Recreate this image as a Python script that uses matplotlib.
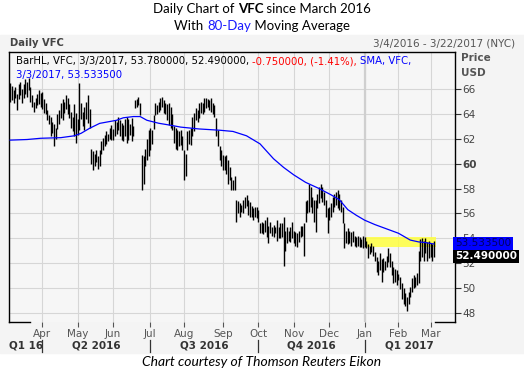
import matplotlib
matplotlib.use('Agg')
import matplotlib.pyplot as plt
import numpy as np
import pandas as pd
from matplotlib.transforms import blended_transform_factory

# ---------------- data ----------------
holidays = ['2016-03-25', '2016-05-30', '2016-07-04', '2016-09-05', '2016-11-24',
            '2016-12-26', '2017-01-02', '2017-01-16', '2017-02-20']
first_date = '2016-03-04'
axis_end_date = '2017-03-22'

highs = [66.5, 66.3, 65.9, 66.2, 65.6, 66.4, 66.6, 66.0, 66.4, 66.8,
         66.6, 66.9, 66.2, 65.5, 65.0, 65.3, 65.6, 65.9, 65.7, 65.8,
         65.2, 64.9, 64.3, 63.9, 63.8, 63.4, 63.2, 62.9, 64.0, 64.3,
         64.9, 65.2, 65.0, 65.5, 65.3, 64.8, 64.2, 63.8, 64.8, 64.1,
         63.6, 66.5, 64.9, 64.2, 64.6, 65.0, 65.5, 64.4, 61.2, 61.0,
         60.8, 61.1, 60.6, 61.1, 61.8, 62.1, 62.3, 62.6, 62.4, 62.9,
         63.1, 62.8, 63.5, 63.4, 63.8, 63.5, 63.3, 63.1, 63.6, 63.8,
         63.6, 63.2, 63.7, 63.0, 65.1, 65.2, 65.4, 64.9, 60.7, 60.6,
         61.2, 62.0, 62.7, 62.9, 62.7, 63.9, 64.9, 64.7, 65.0, 65.3,
         65.4, 65.1, 64.9, 64.8, 64.9, 64.6, 64.0, 63.0, 62.9, 62.7,
         62.6, 62.7, 62.2, 61.1, 60.8, 62.6, 62.7, 62.9, 63.8, 64.1,
         64.5, 64.3, 64.9, 65.0, 64.9, 65.3, 65.3, 65.2, 65.1, 65.3,
         64.9, 64.7, 63.7, 62.7, 61.4, 61.1, 60.7, 60.6, 60.7, 60.3,
         59.7, 58.9, 58.7, 59.0, 57.1, 57.0, 56.8, 56.7, 57.1, 57.3,
         57.5, 57.1, 56.9, 56.6, 56.4, 56.5, 56.5, 56.3, 55.2, 55.3,
         55.2, 55.5, 55.7, 55.0, 55.3, 54.9, 55.1, 54.9, 55.5, 54.9,
         55.2, 55.2, 55.7, 54.6, 54.9, 54.6, 54.9, 55.3, 54.6, 54.5,
         54.4, 54.6, 55.0, 55.0, 55.2, 57.0, 57.1, 58.4, 58.1, 57.3,
         57.1, 57.1, 57.6, 58.1, 58.4, 58.1, 57.7, 57.1, 56.4, 56.5,
         56.8, 57.3, 57.6, 57.7, 57.9, 57.6, 57.1, 56.5, 55.2, 54.6,
         54.8, 54.6, 54.5, 54.6, 54.2, 54.1, 54.2, 54.1, 53.9, 54.2,
         54.1, 53.8, 53.5, 53.4, 53.6, 53.4, 52.9, 52.5, 52.2, 52.8,
         52.3, 52.4, 52.2, 52.6, 53.2, 52.8, 52.2, 51.7, 51.5, 51.4,
         51.1, 50.9, 50.4, 50.0, 49.6, 49.3, 49.7, 50.1, 50.8, 51.0,
         50.9, 51.2, 53.0, 53.9, 54.0, 53.8, 54.0, 53.7, 53.8, 53.6,
         53.5, 53.78]

lows = [65.0, 65.1, 64.9, 65.3, 64.3, 65.2, 65.5, 64.9, 65.3, 65.6,
        65.4, 65.9, 65.0, 64.6, 64.2, 64.5, 64.7, 64.8, 64.6, 64.4,
        64.1, 64.0, 63.5, 63.2, 62.2, 62.5, 61.4, 62.0, 62.8, 63.2,
        63.7, 63.5, 64.1, 64.4, 64.0, 63.7, 62.9, 62.6, 62.2, 61.7,
        62.3, 62.7, 63.6, 63.0, 62.7, 63.6, 63.3, 62.9, 60.0, 59.5,
        59.8, 60.1, 59.6, 59.8, 60.8, 61.1, 61.4, 61.6, 61.8, 62.0,
        61.9, 61.9, 62.2, 62.4, 62.7, 62.2, 61.9, 61.8, 62.2, 61.7,
        61.9, 62.3, 61.8, 62.2, 64.5, 64.6, 64.7, 63.9, 57.9, 58.4,
        59.8, 60.3, 60.6, 61.1, 61.6, 62.8, 63.9, 64.0, 64.2, 64.3,
        64.6, 64.1, 64.0, 63.5, 63.1, 62.9, 62.7, 61.7, 61.2, 61.1,
        61.4, 61.5, 61.1, 58.7, 59.0, 61.1, 61.6, 61.5, 62.2, 62.6,
        63.5, 63.4, 63.7, 64.1, 64.0, 64.2, 64.5, 64.6, 64.3, 64.2,
        64.0, 63.8, 62.2, 61.4, 60.3, 59.8, 59.5, 59.5, 59.2, 58.4,
        58.7, 57.9, 57.9, 57.9, 55.3, 56.0, 55.7, 56.1, 56.0, 56.4,
        56.6, 55.9, 55.7, 55.7, 55.5, 55.7, 55.6, 55.3, 54.4, 54.4,
        54.3, 54.5, 54.1, 53.6, 54.4, 54.2, 54.1, 54.4, 53.8, 54.0,
        54.0, 54.1, 51.8, 53.0, 53.6, 53.8, 53.7, 54.0, 53.6, 53.4,
        53.3, 53.7, 54.1, 54.2, 52.6, 55.3, 56.0, 56.1, 56.5, 56.0,
        55.3, 54.5, 56.4, 56.8, 57.2, 56.9, 56.7, 55.7, 54.4, 55.5,
        55.7, 56.1, 56.5, 56.7, 56.4, 56.3, 56.1, 55.2, 53.2, 53.6,
        53.5, 53.6, 53.4, 53.7, 53.4, 53.3, 53.4, 53.3, 53.3, 53.2,
        53.3, 53.2, 52.4, 52.7, 52.9, 52.6, 52.2, 51.3, 51.0, 51.4,
        50.5, 51.3, 51.4, 51.7, 52.1, 51.7, 51.0, 50.4, 50.5, 50.2,
        50.6, 49.9, 49.1, 48.7, 48.5, 48.1, 48.7, 49.3, 49.7, 50.0,
        50.1, 50.2, 50.4, 52.2, 52.5, 52.2, 52.8, 52.2, 52.4, 52.5,
        52.2, 52.49]

# 80-day SMA, read at selected trading-day numbers
sma_day = [0, 10, 18, 30, 38, 42, 47, 53, 59, 63, 67, 73, 77, 81, 88, 95, 101,
           112, 124, 132, 140, 148, 152, 156, 162, 168, 175, 183, 190, 195, 200,
           205, 210, 216, 222, 230, 237, 242, 246, 251]
sma_val = [61.9, 61.95, 62.05, 62.1, 62.25, 62.45, 62.85, 63.25, 63.4, 63.5,
           63.7, 63.8, 63.8, 63.5, 63.26, 63.1, 62.95, 62.8, 62.7, 62.6, 62.25,
           61.6, 61.0, 60.4, 59.7, 59.1, 58.5, 58.0, 57.5, 57.1, 56.3, 55.85,
           55.45, 55.1, 54.8, 54.4, 53.85, 53.7, 53.65, 53.5335]

band_low, band_high = 53.3, 54.1
band_from, band_to = '2017-01-04', '2017-03-06'

last_sma = 53.5335
last_low = 52.49
y_ticks = [48, 50, 52, 54, 56, 58, 60, 62, 64, 66]
quarters = ['Q2 2016', 'Q3 2016', 'Q4 2016', 'Q1 2017']

# ---------------- figure ----------------
W, H = 524, 372
fig = plt.figure(figsize=(W / 100, H / 100), dpi=100)
fig.patch.set_facecolor('white')

def fx(x):
    return x / W

def fy(y):
    return 1 - y / H

BG = '#f4f4f4'
fig.patches.append(plt.Rectangle((0, fy(353)), 1, (353 - 35) / H,
                                 transform=fig.transFigure, color=BG, zorder=-5))

ax_l, ax_r, ax_t, ax_b = 9, 455, 52, 322
ax = fig.add_axes([fx(ax_l), fy(ax_b), (ax_r - ax_l) / W, (ax_b - ax_t) / H])
ax.set_zorder(1)
ax.set_facecolor('#f6f6f6')

days = pd.bdate_range(first_date, axis_end_date, freq='C', holidays=holidays)
pos = np.arange(len(days))
n = len(highs)
xb = pos[:n]

# yellow band
b0 = days.get_loc(pd.Timestamp(band_from))
b1 = days.get_loc(pd.Timestamp(band_to))
ax.fill_between([b0 - 0.5, b1 + 0.5], band_low, band_high, color='#ffff40',
                alpha=0.85, lw=0, zorder=2)

ax.vlines(xb, lows, highs, color='black', lw=1.0, zorder=3)
ax.plot(sma_day, sma_val, color='#0000ff', lw=0.9, zorder=4)

ax.set_xlim(-0.7, 263.5)
ax.set_ylim(47.25, 69.0)

# month ticks
month_pos = [i for i in range(1, len(days)) if days[i].month != days[i - 1].month]
month_names = [days[i].strftime('%b') for i in month_pos]
ax.set_xticks(month_pos, labels=month_names)
ax.tick_params(axis='x', length=3.5, width=0.8, color='#555555', labelcolor='#555555',
               labelsize=7.5, pad=1.5)

ax.yaxis.tick_right()
ax.set_yticks(y_ticks, labels=[str(v) for v in y_ticks])
ax.tick_params(axis='y', length=4, width=0.8, color='#333333', labelcolor='#444444',
               labelsize=7.5, pad=1.5)
for lab in ax.get_yticklabels():
    if lab.get_text() == '60':
        lab.set_fontweight('bold')

ax.grid(True, color='#d6d6d6', lw=0.8, zorder=0)
ax.set_axisbelow(True)
jan = [p for p, nm in zip(month_pos, month_names) if nm == 'Jan'][0]
ax.axvline(jan, color='#cfcfcf', lw=1.6, zorder=1)

for s in ['left', 'top', 'right']:
    ax.spines[s].set_color('black')
    ax.spines[s].set_linewidth(1.0)
ax.spines['bottom'].set_visible(False)
ax.plot([0, 21 / 446], [0, 0], transform=ax.transAxes, color='black', lw=1.0, clip_on=False)
ax.plot([426 / 446, 1], [0, 0], transform=ax.transAxes, color='black', lw=1.0, clip_on=False)

# right value boxes
tr = blended_transform_factory(ax.transAxes, ax.transData)
ax.text(1.0, last_sma + 0.05, f'{last_sma:.6f}', transform=tr, ha='left', va='center',
        fontsize=7.5, color='#000060', zorder=10, clip_on=False,
        bbox=dict(facecolor='#0000ff', edgecolor='none', pad=1.2))
ax.text(1.0, last_low + 0.05, f'{last_low:.6f}', transform=tr, ha='left', va='center',
        fontsize=7.5, color='white', fontweight='bold', zorder=11, clip_on=False,
        bbox=dict(facecolor='black', edgecolor='none', pad=1.2))

renderer = fig.canvas.get_renderer()

def text_width(s, **kw):
    t1 = fig.text(0, 0, 'x' + s + 'x', **kw)
    t2 = fig.text(0, 0, 'xx', **kw)
    w = t1.get_window_extent(renderer).width - t2.get_window_extent(renderer).width
    t1.remove(); t2.remove()
    return w

def rich(x, y, parts, ha='center', va='center'):
    widths = [text_width(s, **kw) for s, kw in parts]
    total = sum(widths)
    cx = x - total / 2 if ha == 'center' else x
    for (s, kw), w in zip(parts, widths):
        fig.text(fx(cx), fy(y), s, ha='left', va=va, **kw)
        cx += w

TF = ['Lato', 'DejaVu Sans']
TS = 9.5
rich(262, 9, [('Daily Chart of ', dict(fontsize=TS, family=TF, color='black')),
              ('VFC', dict(fontsize=TS, family=TF, color='black', fontweight='bold')),
              (' since March 2016', dict(fontsize=TS, family=TF, color='black'))])
rich(262, 26, [('With ', dict(fontsize=TS, family=TF, color='black')),
               ('80-Day', dict(fontsize=TS, family=TF, color='#1a1aff')),
               (' Moving Average', dict(fontsize=TS, family=TF, color='black'))])

fig.text(fx(10), fy(43), 'Daily VFC', fontsize=7.2, fontweight='bold', color='#444444',
         ha='left', va='center')
fig.text(fx(515), fy(43), '3/4/2016 - 3/22/2017 (NYC)', fontsize=7.5, color='#555555',
         ha='right', va='center')
fig.text(fx(461), fy(58), 'Price', fontsize=7.5, fontweight='bold', color='#555555',
         ha='left', va='center')
fig.text(fx(461), fy(73), 'USD', fontsize=7.5, fontweight='bold', color='#555555',
         ha='left', va='center')

rich(16, 61, [('BarHL, VFC, 3/3/2017, 53.780000, 52.490000, ', dict(fontsize=7.3, color='black')),
              ('-0.750000, (-1.41%), ', dict(fontsize=7.3, color='#ff0000')),
              ('SMA, VFC,', dict(fontsize=7.3, color='#0000ff'))], ha='left')
fig.text(fx(16), fy(75), '3/3/2017, 53.533500', fontsize=7.3, color='#0000ff',
         ha='left', va='center')

# quarter labels
xpx = lambda p: ax_l + (p + 0.7) / (263.5 + 0.7) * (ax_r - ax_l)
q_bounds = [p for p, nm in zip(month_pos, month_names) if nm in ('Apr', 'Jul', 'Oct', 'Jan')]
fig.text(fx(9), fy(346), 'Q1 16', fontsize=7.5, fontweight='bold', color='#333333',
         ha='left', va='center')
edges = q_bounds + [263.5]
for i, q in enumerate(quarters):
    c = (xpx(edges[i]) + xpx(edges[i + 1])) / 2
    fig.text(fx(c), fy(346), q, fontsize=7.5, fontweight='bold', color='#333333',
             ha='center', va='center')
for p in q_bounds:
    x = xpx(p)
    fig.add_artist(plt.Line2D([fx(x), fx(x)], [fy(340), fy(352)], color='#333333', lw=0.9,
                              transform=fig.transFigure))

fig.text(fx(262), fy(362), 'Chart courtesy of Thomson Reuters Eikon', fontsize=10,
         family=TF, style='italic', color='black', ha='center', va='center')

fig.savefig('out.png', dpi=100)
